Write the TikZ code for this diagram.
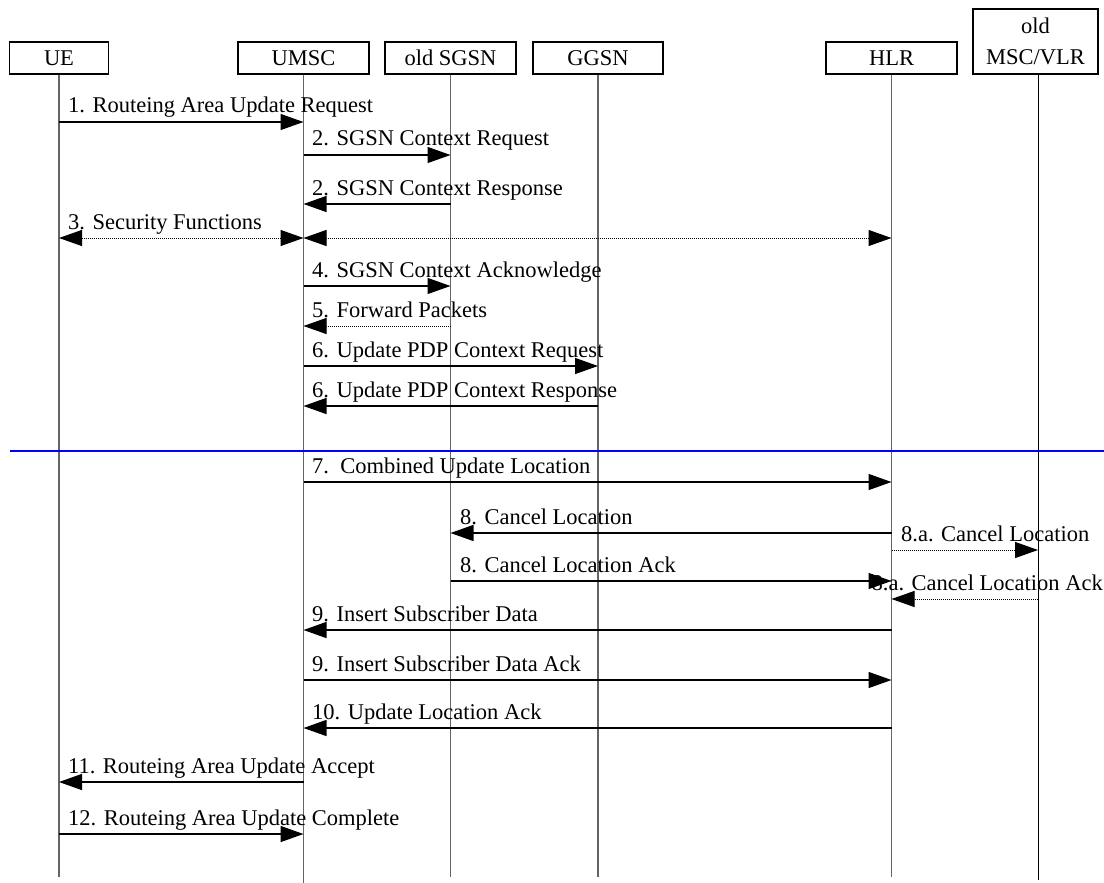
\documentclass[tikz,border=0pt]{standalone}
\usepackage{fontspec}
\setmainfont{Liberation Serif}
\usetikzlibrary{arrows.meta}
\begin{document}
\begin{tikzpicture}[x=1pt,y=-1pt,
  ent/.style={draw, line width=1.3pt, minimum height=32pt, inner sep=0pt, font=\fontsize{22.5}{26}\selectfont},
  life/.style={draw={rgb,255:red,100;green,100;blue,100}, line width=1.8pt},
  msg/.style={line width=1.4pt, -{Triangle[length=23pt,width=16pt]}},
  dmsg/.style={line width=1pt, dash pattern=on 1pt off 1pt, -{Triangle[length=23pt,width=16pt]}},
  ddmsg/.style={line width=1pt, dash pattern=on 1pt off 1pt, {Triangle[length=23pt,width=16pt]}-{Triangle[length=23pt,width=16pt]}},
  lbl/.style={inner sep=0pt, anchor=base west, font=\fontsize{22.5}{26}\selectfont}]
\useasboundingbox (0,0) rectangle (1104,883);
\fill[white] (0,0) rectangle (1104,883);
% entities
\node[ent, minimum width=99pt] (ue) at (59,58) {UE};
\node[ent, minimum width=131pt] (umsc) at (303.5,58) {UMSC};
\node[ent, minimum width=131pt] (sgsn) at (450.5,58) {old SGSN};
\node[ent, minimum width=130pt] (ggsn) at (598,58) {GGSN};
\node[ent, minimum width=131pt] (hlr) at (891.5,58) {HLR};
\node[ent, minimum width=125pt, minimum height=65pt] (vlr) at (1035.5,41.5) {};
\node[lbl, anchor=base] (vlrt1) at (vlr.center |- 0,34) {old};
\node[lbl, anchor=base] (vlrt2) at (vlr.center |- 0,65) {MSC/VLR};
% lifeline ends
\coordinate (ueE) at (ue.south |- 0,877);
\coordinate (umscE) at (umsc.south |- 0,883);
\coordinate (sgsnE) at (sgsn.south |- 0,877);
\coordinate (ggsnE) at (ggsn.south |- 0,877);
\coordinate (hlrE) at (hlr.south |- 0,877);
\coordinate (vlrE) at (1038,880);
\coordinate (vlrS) at (1038,74);
\draw[life] (ue.south) -- (ueE);
\draw[life] (umsc.south) -- (umscE);
\draw[life] (sgsn.south) -- (sgsnE);
\draw[life] (ggsn.south) -- (ggsnE);
\draw[life] (hlr.south) -- (hlrE);
\draw[line width=1pt] (vlrS) -- (vlrE);
% separator
\coordinate (sepL) at (10,451);
\coordinate (sepR) at (1104,451);
\draw[blue, line width=2pt] (sepL) -- (sepR);
% messages
\draw[msg] (ue |- 0,122) -- (umsc |- 0,122);
\node[lbl] (m1) at (68,113) {1. Routeing Area Update Request};
\draw[msg] (umsc |- 0,155) -- (sgsn |- 0,155);
\node[lbl] (m2a) at (312,146) {2. SGSN Context Request};
\draw[msg] (sgsn |- 0,204) -- (umsc |- 0,204);
\node[lbl] (m2b) at (312,195) {2. SGSN Context Response};
\draw[ddmsg] (ue |- 0,238) -- (umsc |- 0,238);
\draw[ddmsg] (umsc |- 0,238) -- (hlr |- 0,238);
\node[lbl] (m3) at (68,229) {3. Security Functions};
\draw[msg] (umsc |- 0,286) -- (sgsn |- 0,286);
\node[lbl] (m4) at (312,277) {4. SGSN Context Acknowledge};
\draw[dmsg] (sgsn |- 0,326) -- (umsc |- 0,326);
\node[lbl] (m5) at (312,317) {5. Forward Packets};
\draw[msg] (umsc |- 0,366) -- (ggsn |- 0,366);
\node[lbl] (m6a) at (312,357) {6. Update PDP Context Request};
\draw[msg] (ggsn |- 0,406) -- (umsc |- 0,406);
\node[lbl] (m6b) at (312,397) {6. Update PDP Context Response};
\draw[msg] (umsc |- 0,482) -- (hlr |- 0,482);
\node[lbl] (m7) at (312,473) {7.\ \ Combined Update Location};
\draw[msg] (hlr |- 0,533) -- (sgsn |- 0,533);
\node[lbl] (m8a) at (460,524) {8. Cancel Location};
\draw[dmsg] (hlr |- 0,550) -- (vlrE |- 0,550);
\node[lbl] (m8b) at (901,541) {8.a. Cancel Location};
\draw[msg] (sgsn |- 0,581) -- (hlr |- 0,581);
\node[lbl] (m8c) at (460,572) {8. Cancel Location Ack};
\draw[dmsg] (vlrE |- 0,599) -- (hlr |- 0,599);
\node[lbl, anchor=base east] (m8d) at (1103,590) {8.a. Cancel Location Ack};
\draw[msg] (hlr |- 0,630) -- (umsc |- 0,630);
\node[lbl] (m9a) at (312,621) {9. Insert Subscriber Data};
\draw[msg] (umsc |- 0,680) -- (hlr |- 0,680);
\node[lbl] (m9b) at (312,671) {9. Insert Subscriber Data Ack};
\draw[msg] (hlr |- 0,728) -- (umsc |- 0,728);
\node[lbl] (m10) at (312,719) {10. Update Location Ack};
\draw[msg] (umsc |- 0,782) -- (ue |- 0,782);
\node[lbl] (m11) at (68,773) {11. Routeing Area Update Accept};
\draw[msg] (ue |- 0,834) -- (umsc |- 0,834);
\node[lbl] (m12) at (68,825) {12. Routeing Area Update Complete};
\end{tikzpicture}
\end{document}
